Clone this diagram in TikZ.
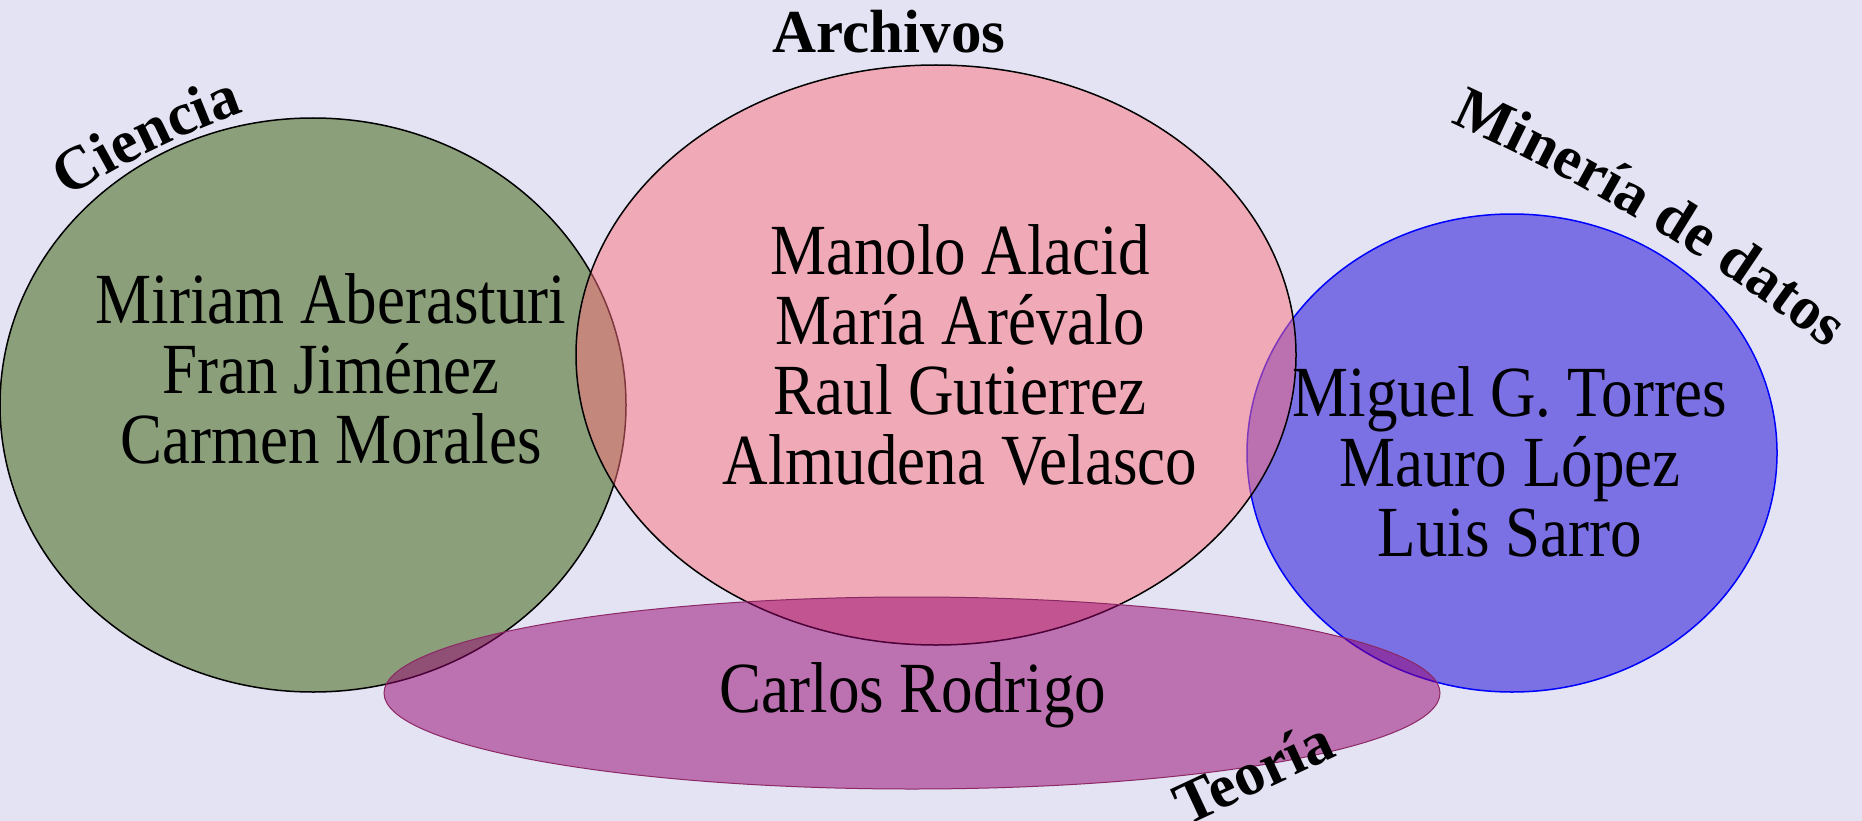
\documentclass[tikz,border=0pt]{standalone}
\usepackage{fontspec}
\setmainfont{Liberation Serif}
\newfontfamily\tallserif{Liberation Serif}[FakeStretch=0.875]
\usetikzlibrary{shapes.geometric,decorations.text}
\definecolor{bgcol}{RGB}{227,227,244}
\definecolor{cgreen}{RGB}{52,92,3}
\definecolor{cpink}{RGB}{252,112,123}
\definecolor{cblue}{RGB}{20,0,215}
\definecolor{cbluel}{RGB}{0,0,255}
\definecolor{cpurple}{RGB}{150,0,110}
\definecolor{cpurplel}{RGB}{140,40,100}
\tikzset{
  venn/.style={ellipse, inner sep=0pt, fill opacity=0.5, line width=1.5pt},
  person/.style={font=\tallserif\fontsize{72}{70}\selectfont, anchor=base, inner sep=0pt},
  setlabel/.style={font=\bfseries\fontsize{61}{70}\selectfont, inner sep=0pt},
}
\begin{document}
\begin{tikzpicture}[x=1pt,y=-1pt]
\fill[bgcol] (0,0) rectangle (1862,821);
\useasboundingbox (0,0) rectangle (1862,821);
\begin{scope}
\clip (0,0) rectangle (1862,821);
% sets
\node[venn, draw=black, fill=cgreen, minimum width=626pt, minimum height=574pt] (ciencia) at (313,405) {};
\node[venn, draw=cbluel, fill=cblue, minimum width=530pt, minimum height=478pt] (mineria) at (1512,453) {};
\node[venn, draw=black, fill=cpink, minimum width=720pt, minimum height=580pt] (archivos) at (936,355) {};
\node[venn, draw=cpurplel, line width=1pt, fill=cpurple, minimum width=1056pt, minimum height=192pt] (teoria) at (912,693) {};
% names
\node[person] (g1) at (331,323) {Miriam Aberasturi};
\node[person] (g2) at (331,393) {Fran Jiménez};
\node[person] (g3) at (331,463) {Carmen Morales};
\node[person] (p1) at (960,274) {Manolo Alacid};
\node[person] (p2) at (960,344) {María Arévalo};
\node[person] (p3) at (960,414) {Raul Gutierrez};
\node[person] (p4) at (960,484) {Almudena Velasco};
\node[person] (b1) at (1510,416) {Miguel G. Torres};
\node[person] (b2) at (1510,486) {Mauro López};
\node[person] (b3) at (1510,556) {Luis Sarro};
\node[person] (t1) at (913,712) {Carlos Rodrigo};
% labels
\node[setlabel, anchor=base] (lA) at (889,53) {Archivos};
\coordinate (ccen) at (535,932);
\path[decorate, decoration={text along path, text align=center,
   text={|\bfseries\fontsize{61}{70}\selectfont|Ciencia}}]
   (ccen) ++(-125:870) arc[start angle=-125, end angle=-107, radius=870];
\coordinate (mcen) at (693,1810);
\path[decorate, decoration={text along path, text align=center,
   text={|\bfseries\fontsize{61}{70}\selectfont|Minería de datos}}]
   (mcen) ++(-68:1850) arc[start angle=-68, end angle=-50, radius=1850];
\node[setlabel, rotate=25] (lT) at (1253,772) {Teoría};
\end{scope}
\end{tikzpicture}
\end{document}
